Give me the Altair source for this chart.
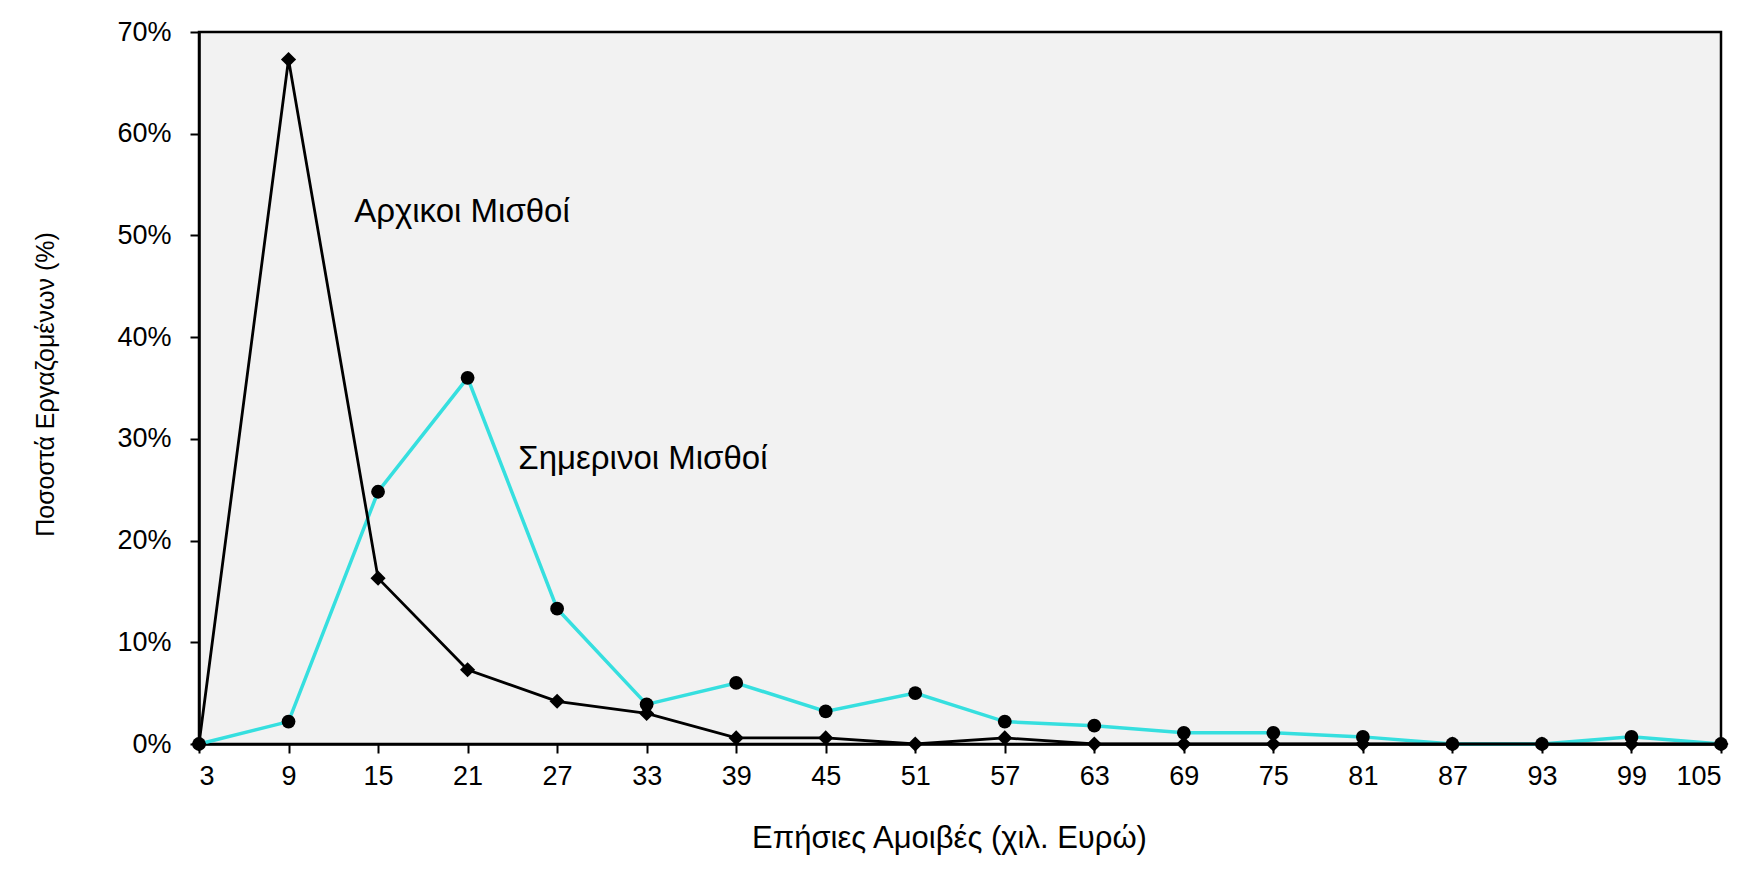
import altair as alt
import pandas as pd

# Annual pay bins (thousand euros)
salary = [3, 9, 15, 21, 27, 33, 39, 45, 51, 57, 63, 69, 75, 81, 87, 93, 99, 105]
# Share of employees (%) – starting salaries
initial_pct = [0, 67.3, 16.3, 7.3, 4.2, 3.0, 0.6, 0.6, 0, 0.6, 0, 0, 0, 0, 0, 0, 0, 0]
# Share of employees (%) – current salaries
current_pct = [0, 2.2, 24.8, 36.0, 13.3, 3.9, 6.0, 3.2, 5.0, 2.2, 1.8, 1.1, 1.1, 0.7, 0, 0, 0.7, 0]

y_ticks = [0, 0.1, 0.2, 0.3, 0.4, 0.5, 0.6, 0.7]

label_text = ["Αρχικοι Μισθοί", "Σημερινοι Μισθοί"]
label_x = [13.4, 24.4]
label_y = [0.523, 0.280]

df_init = pd.DataFrame({"salary": salary, "share": [v / 100 for v in initial_pct]})
df_curr = pd.DataFrame({"salary": salary, "share": [v / 100 for v in current_pct]})
df_lab = pd.DataFrame({"text": label_text, "x": label_x, "y": label_y})

FONT = "Liberation Sans"

x_enc = alt.X(
    "salary:Q",
    scale=alt.Scale(domain=[3, 105], nice=False, zero=False),
    axis=alt.Axis(
        values=salary,
        format="d",
        title="Επήσιες Αμοιβές (χιλ. Ευρώ)",
        titleX=750,
        titleY=94,
        titleBaseline="middle",
        titleFontSize=31,
    ),
)
y_enc = alt.Y(
    "share:Q",
    scale=alt.Scale(domain=[0, 0.7], nice=False),
    axis=alt.Axis(
        values=y_ticks,
        format=".0%",
        title="Ποσοστά Εργαζομένων (%)",
        titleX=-154,
        titleY=352,
        titleBaseline="middle",
        titleFontSize=25,
    ),
)

cyan_line = alt.Chart(df_curr).mark_line(color="#36dfdf", strokeWidth=3.5).encode(x=x_enc, y=y_enc)
black_line = alt.Chart(df_init).mark_line(color="black", strokeWidth=2.8).encode(x=x_enc, y=y_enc)
circles = alt.Chart(df_curr).mark_point(
    shape="circle", filled=True, color="black", size=190, opacity=1
).encode(x=x_enc, y=y_enc)
diamonds = alt.Chart(df_init).mark_point(
    shape="diamond", filled=True, color="black", size=230, opacity=1
).encode(x=x_enc, y=y_enc)
labels = alt.Chart(df_lab).mark_text(
    align="left", baseline="middle", fontSize=33, font=FONT, color="black"
).encode(x=alt.X("x:Q"), y=alt.Y("y:Q"), text="text:N")

chart = (
    alt.layer(cyan_line, black_line, circles, diamonds, labels)
    .properties(
        width=1522,
        height=712,
        padding={"left": 191, "top": 24, "right": 35, "bottom": 126},
        autosize=alt.AutoSizeParams(type="none"),
        background="white",
    )
    .configure_view(stroke="black", strokeWidth=2.5, fill="#f2f2f2")
    .configure_axis(
        labelFont=FONT,
        titleFont=FONT,
        labelFontSize=27,
        titleFontSize=28,
        titleFontWeight="normal",
        labelColor="black",
        titleColor="black",
        domainColor="black",
        domainWidth=2.5,
        tickColor="black",
        tickWidth=2,
        tickSize=9,
        grid=False,
    )
    .configure_axisX(labelPadding=10)
    .configure_axisY(labelPadding=19)
)

chart.save("out.html", embed_options={"renderer": "svg", "actions": False})
